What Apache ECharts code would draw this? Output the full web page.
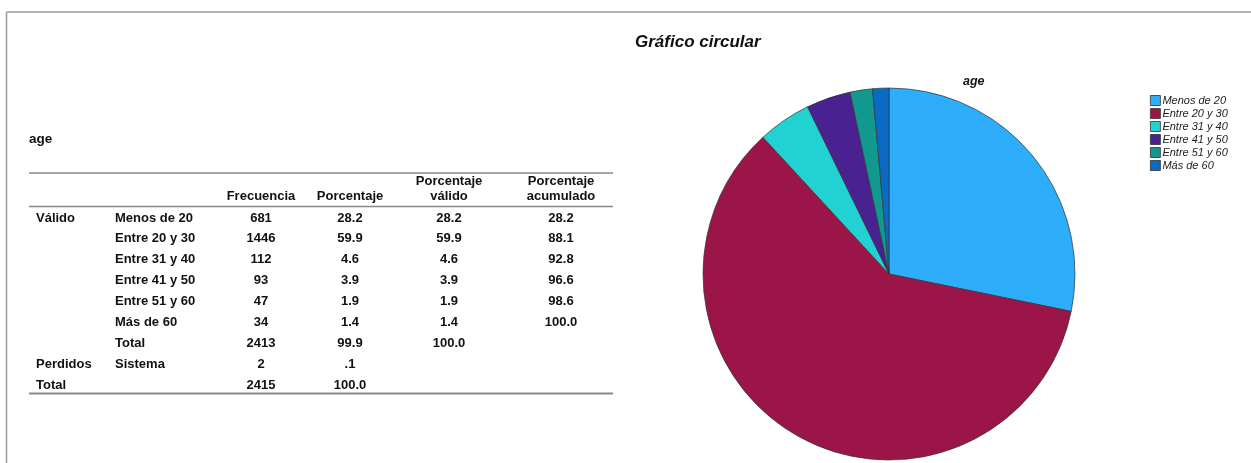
<!DOCTYPE html>
<html>
<head>
<meta charset="utf-8">
<script src="https://cdn.jsdelivr.net/npm/echarts@6/dist/echarts.min.js"></script>
<style>
html,body{margin:0;padding:0;background:#fff;}
#c{width:1251px;height:463px;}
</style>
</head>
<body>
<div id="c"></div>
<script>
// ---- data ----
var categories = ['Menos de 20', 'Entre 20 y 30', 'Entre 31 y 40', 'Entre 41 y 50', 'Entre 51 y 60', 'Más de 60'];
var frecuencia = [681, 1446, 112, 93, 47, 34];
var porcentaje = ['28.2', '59.9', '4.6', '3.9', '1.9', '1.4'];
var porcentajeValido = ['28.2', '59.9', '4.6', '3.9', '1.9', '1.4'];
var porcentajeAcumulado = ['28.2', '88.1', '92.8', '96.6', '98.6', '100.0'];
var totalValido = ['Total', '2413', '99.9', '100.0'];
var perdidos = ['Sistema', '2', '.1'];
var totalGeneral = ['2415', '100.0'];
var headers = ['Frecuencia', 'Porcentaje', 'Porcentaje\nválido', 'Porcentaje\nacumulado'];
var colors = ['#2eadfb', '#9c1548', '#22d2d2', '#4a2191', '#12998f', '#0a6bc4'];

// ---- layout ----
var FONT = '"Liberation Sans", Arial, sans-serif';
var colX = [36, 115, 261, 350, 449, 561];
var rowY0 = 218, rowH = 20.9;
var tblLeft = 29, tblRight = 613;

var g = [];
function txt(x, y, s, align, size) {
  g.push({type: 'text', x: x, y: y, style: {text: s, fill: '#111', font: 'bold ' + (size || 13) + 'px ' + FONT, align: align || 'center', verticalAlign: 'middle', lineHeight: 14}});
}
function hline(y, w) {
  g.push({type: 'line', shape: {x1: tblLeft, y1: y, x2: tblRight, y2: y}, style: {stroke: '#888', lineWidth: w || 1.5}});
}
// frame
g.push({type: 'line', shape: {x1: 6.5, y1: 12, x2: 1251, y2: 12}, style: {stroke: '#999', lineWidth: 1.5}});
g.push({type: 'line', shape: {x1: 6.5, y1: 12, x2: 6.5, y2: 463}, style: {stroke: '#999', lineWidth: 1.5}});
// table title
txt(29, 139, 'age', 'left', 13.5);
hline(173); hline(206.5); hline(393.5, 2);
// headers
for (var h = 0; h < headers.length; h++) {
  var lines = headers[h].split('\n');
  if (lines.length === 1) txt(colX[h + 2], 196, lines[0]);
  else { txt(colX[h + 2], 181, lines[0]); txt(colX[h + 2], 196, lines[1]); }
}
txt(colX[0], rowY0, 'Válido', 'left');
for (var i = 0; i < categories.length; i++) {
  var y = rowY0 + i * rowH;
  txt(colX[1], y, categories[i], 'left');
  txt(colX[2], y, String(frecuencia[i]));
  txt(colX[3], y, porcentaje[i]);
  txt(colX[4], y, porcentajeValido[i]);
  txt(colX[5], y, porcentajeAcumulado[i]);
}
var yT = rowY0 + 6 * rowH;
txt(colX[1], yT, totalValido[0], 'left');
txt(colX[2], yT, totalValido[1]);
txt(colX[3], yT, totalValido[2]);
txt(colX[4], yT, totalValido[3]);
var yP = rowY0 + 7 * rowH;
txt(colX[0], yP, 'Perdidos', 'left');
txt(colX[1], yP, perdidos[0], 'left');
txt(colX[2], yP, perdidos[1]);
txt(colX[3], yP, perdidos[2]);
var yG = rowY0 + 8 * rowH;
txt(colX[0], yG, 'Total', 'left');
txt(colX[2], yG, totalGeneral[0]);
txt(colX[3], yG, totalGeneral[1]);

var chart = echarts.init(document.getElementById('c'), null, {renderer: 'canvas'});
chart.setOption({
  animation: false,
  color: colors,
  title: [
    {text: 'Gráfico circular', left: 630, top: 29, textStyle: {fontFamily: FONT, fontSize: 17, fontWeight: 'bold', fontStyle: 'italic', color: '#111'}},
    {text: 'age', left: 958, top: 70, textStyle: {fontFamily: FONT, fontSize: 12.5, fontWeight: 'bold', fontStyle: 'italic', color: '#111'}}
  ],
  legend: {
    orient: 'vertical', left: 1145, top: 90, itemWidth: 10, itemHeight: 10, itemGap: 2,
    icon: 'rect',
    data: categories,
    textStyle: {fontFamily: FONT, fontSize: 11, fontStyle: 'italic', color: '#222', padding: [0, 0, 0, -3]},
    itemStyle: {borderColor: '#333', borderWidth: 0.8}
  },
  graphic: g,
  series: [{
    type: 'pie',
    center: [889, 274],
    radius: 186,
    startAngle: 90,
    clockwise: true,
    label: {show: false},
    labelLine: {show: false},
    emphasis: {disabled: true},
    itemStyle: {borderColor: '#333', borderWidth: 0.7},
    data: categories.map(function (c, i) { return {name: c, value: frecuencia[i]}; })
  }]
});
</script>
</body>
</html>
